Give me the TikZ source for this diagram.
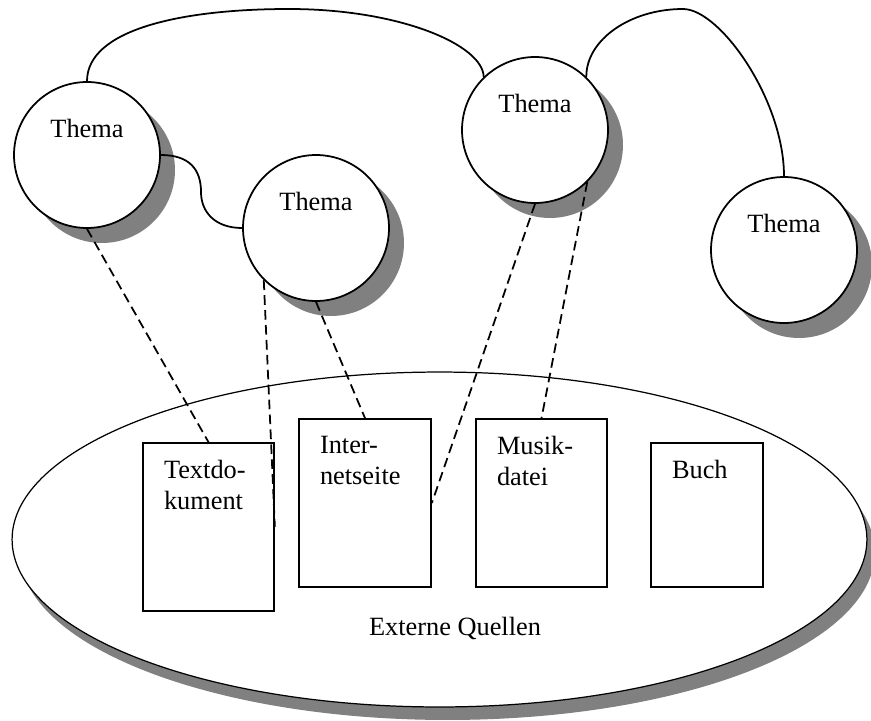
\documentclass[tikz,border=0pt]{standalone}
\usepackage{fontspec}
\setmainfont{Liberation Serif}
\usepackage{tikz}
\usetikzlibrary{shapes}
\usetikzlibrary{shadows}

\tikzset{
    thema/.style={circle, draw, fill=white, minimum size=2.92cm, inner sep=0pt,
        drop shadow={shadow xshift=0.3cm, shadow yshift=-0.3cm, fill=gray, opacity=1}},
    quelle/.style={rectangle, draw, fill=white, inner sep=0pt},
    quelletext/.style={anchor=north west, align=left, inner sep=0pt},
    link/.style={dash pattern=on 5.5pt off 3pt}
}

\begin{document}
\begin{tikzpicture}[x=0.02cm, y=-0.02cm, line width=1pt, font=\fontsize{15}{18}\selectfont]
    \useasboundingbox (0,0) rectangle (871,720);

    % draw outer ellipse with shadow
    \node[ellipse, draw, fill=white, line width=0.7pt, minimum width=17.1cm, minimum height=6.7cm,
          drop shadow={shadow xshift=0.16cm, shadow yshift=-0.26cm, fill=gray, opacity=1}]
          (extern) at (439.5, 539.5) {};
    \node (quellen) at (455, 628) {Externe Quellen};

    % draw source boxes
    \node[quelle, minimum width=2.62cm, minimum height=3.36cm] (textdok) at (208.5, 527) {};
    \node[quelle, minimum width=2.64cm, minimum height=3.36cm] (internet) at (365, 503) {};
    \node[quelle, minimum width=2.62cm, minimum height=3.36cm] (musik) at (541.5, 503) {};
    \node[quelle, minimum width=2.24cm, minimum height=2.88cm] (buch) at (707, 515) {};

    \node[quelletext] (textdoklabel) at ([shift={(0.42cm,-0.34cm)}]textdok.north west) {Textdo-\\kument};
    \node[quelletext] (internetlabel) at ([shift={(0.42cm,-0.34cm)}]internet.north west) {Inter-\\netseite};
    \node[quelletext] (musiklabel) at ([shift={(0.42cm,-0.34cm)}]musik.north west) {Musik-\\datei};
    \node[quelletext] (buchlabel) at ([shift={(0.42cm,-0.34cm)}]buch.north west) {Buch};

    % draw topic circles
    \node[thema, label={[yshift=0.54cm]center:Thema}] (thema1) at (87, 155) {};
    \node[thema, label={[yshift=0.54cm]center:Thema}] (thema2) at (316, 228) {};
    \node[thema, label={[yshift=0.54cm]center:Thema}] (thema3) at (535, 130) {};
    \node[thema, label={[yshift=0.54cm]center:Thema}] (thema4) at (784, 250) {};

    % draw solid links between topics
    \draw (thema1.north) .. controls (87,30) and (180,9) .. (289,9)
                         .. controls (400,9) and (483,45) .. (thema3.134);
    \draw (thema3.46) .. controls (586,40) and (630,9) .. (683,9)
                      .. controls (720,9) and (784,100) .. (thema4.north);
    \draw (thema1.east) .. controls (190,155) and (201,170) .. (201,192)
                        .. controls (201,212) and (215,228) .. (thema2.west);

    % draw dashed links to sources
    \draw[link] (thema1.south) -- (textdok.north);
    \draw[link] (thema2.225) -- (textdok.east);
    \draw[link] (thema2.south) -- (internet.north);
    \draw[link] (thema3.south) -- (internet.east);
    \draw[link] (thema3.-45) -- (musik.north);
\end{tikzpicture}
\end{document}
